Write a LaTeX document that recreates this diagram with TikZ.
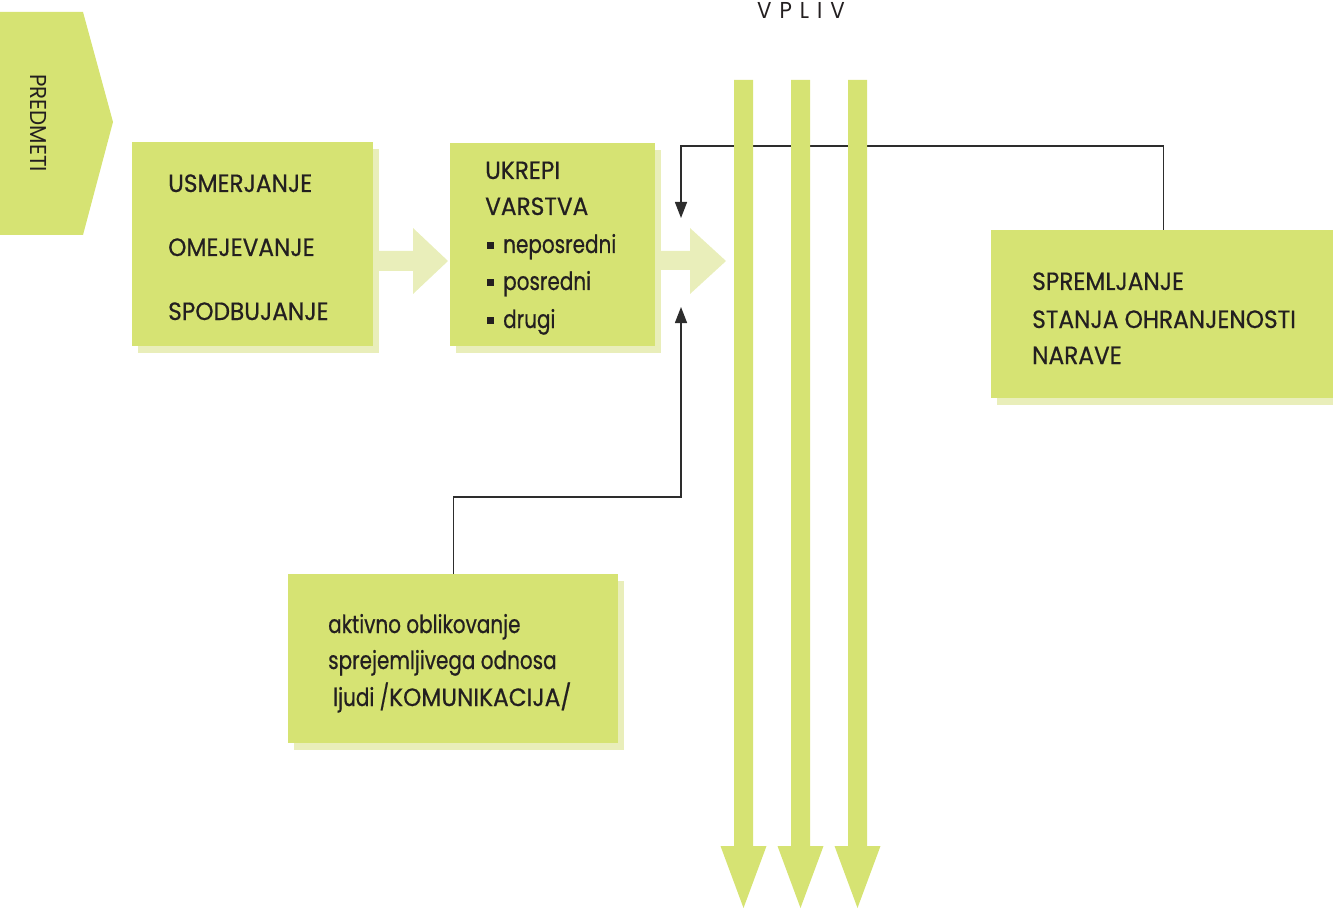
\documentclass[tikz,border=0pt]{standalone}
\usepackage{fontspec}
\setmainfont{Poppins}[FakeStretch=0.93,FakeBold=0.6]
\newfontfamily\lcfont{Poppins}[FakeStretch=0.8,FakeBold=0.6]
\newfontfamily\thinfont{Poppins}[FakeStretch=0.93]
\usetikzlibrary{arrows.meta,shadows}
\definecolor{lg}{RGB}{214,227,115}
\definecolor{pale}{RGB}{233,238,186}
\definecolor{ln}{RGB}{45,45,45}
\definecolor{tx}{RGB}{35,31,32}
\newcommand\mybul{\rule[4pt]{7pt}{7pt}\hspace{9pt}}
\begin{document}
\begin{tikzpicture}[x=1pt,y=-1pt,
  font=\fontsize{25}{30}\selectfont,
  box/.style={fill=lg, draw=none, inner sep=0, anchor=north west,
    drop shadow={shadow xshift=6pt, shadow yshift=-7pt, fill=pale, opacity=1}},
  txt/.style={anchor=base west, inner sep=0, text=tx},
  lctxt/.style={txt, font=\lcfont\fontsize{25}{30}\selectfont},
  conn/.style={draw=ln, line width=1.4pt, -{Triangle[length=16pt,width=12pt]}},
  bigarrow/.style={fill=lg, draw=none},
  palearrow/.style={fill=pale, draw=none}]
\useasboundingbox (0,0) rectangle (1333,909);

% PREDMETI pentagon
\fill[lg] (0,12) -- (83,12) -- (113,122) -- (83,235) -- (0,235) -- cycle;
\node[rotate=-90, inner sep=0, text=tx, font=\thinfont\fontsize{23}{28}\selectfont] (pred) at (39,123) {PREDMETI};

% boxes
\node[box, minimum width=241pt, minimum height=204pt] (b1) at (132,142) {};
\node[box, minimum width=205pt, minimum height=203pt] (b2) at (450,143) {};
\node[box, minimum width=345pt, minimum height=168pt] (b4) at (991,230) {};
\node[box, minimum width=330pt, minimum height=169pt] (b5) at (288,574) {};

% pale arrows between boxes
\fill[palearrow] (373,251) -- (413,251) -- (413,228) -- (448,261) -- (413,294) -- (413,271) -- (373,271) -- cycle;
\fill[palearrow] (655,251) -- (690,251) -- (690,228) -- (726,261) -- (690,294) -- (690,270) -- (655,270) -- cycle;

% texts
\node[txt] (t11) at (168,192) {USMERJANJE};
\node[txt] (t12) at (168,256) {OMEJEVANJE};
\node[txt] (t13) at (168,320) {SPODBUJANJE};

\node[txt] (t21) at (485,179) {UKREPI};
\node[txt] (t22) at (485,215) {VARSTVA};
\node[lctxt] (t23) at (487,253) {\mybul neposredni};
\node[lctxt] (t24) at (487,290) {\mybul posredni};
\node[lctxt] (t25) at (487,328) {\mybul drugi};

\node[txt] (t41) at (1032,290) {SPREMLJANJE};
\node[txt] (t42) at (1032,328) {STANJA OHRANJENOSTI};
\node[txt] (t43) at (1032,364) {NARAVE};

\node[lctxt] (t51) at (328,633) {aktivno oblikovanje};
\node[lctxt] (t52) at (328,669) {sprejemljivega odnosa};
\node[lctxt] (t53) at (333,706) {ljudi /\fontspec{Poppins}[FakeStretch=0.93,FakeBold=0.6]KOMUNIKACIJA/};

% connectors
\coordinate (tipA) at (681,218);
\coordinate (tipB) at (681,307);
\draw[conn] (b4.north) -- ++(0,-84) -| (tipA);
\draw[conn] (b5.north) -- ++(0,-77) -| (tipB);

% VPLIV arrows
\foreach \c in {743.5,800.5,857.5}
  \fill[bigarrow] (\c-9.5,80) -- (\c+9.5,80) -- (\c+9.5,846) -- (\c+23,846) -- (\c,908) -- (\c-23,846) -- (\c-9.5,846) -- cycle;
\node[anchor=base, inner sep=0, text=tx, font=\thinfont\fontsize{23}{28}\selectfont] (vpliv) at (801,19) {V\kern8pt P\kern8pt L\kern8pt I\kern8pt V};
\end{tikzpicture}
\end{document}
